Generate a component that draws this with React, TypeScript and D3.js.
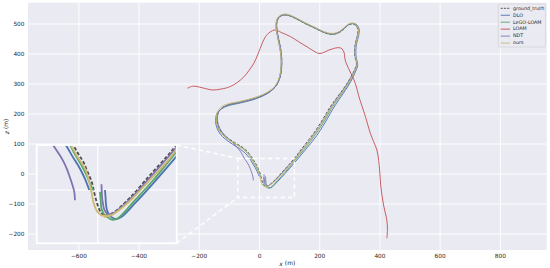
import React from 'react';
import * as d3 from 'd3';

type Pt = [number, number];

// ── axes / ticks ──────────────────────────────────────────────
const xTicks = [-600, -400, -200, 0, 200, 400, 600, 800];
const yTicks = [-200, -100, 0, 100, 200, 300, 400, 500];
const xDomain = [-769, 954];
const yDomain = [-253, 571];
// zoomed region shown in the inset
const insetXDomain = [-72, 116];
const insetYDomain = [-78, 52];
const insetXTicks = [10];
const insetYTicks = [-7.5];

const seriesNames = ['ground_truth', 'DLO', 'LeGO-LOAM', 'LOAM', 'NDT', 'ours'];
const seriesColors = ['#4d4d4d', '#4C72B0', '#55A868', '#C44E52', '#8172B2', '#CCB974'];

// ── trajectories (x, z in metres) ─────────────────────────────
const groundTruth: Pt[] = [
  [20, -41], [30, -38], [53, -18], [80, 12], [103, 37], [114, 50], [140, 84], [180, 136], [210, 182],
  [235, 224], [258, 256], [280, 286], [298, 314], [313, 342], [322, 366], [317, 392], [316, 414],
  [319, 438], [325, 460], [327, 480], [321, 494], [310, 500], [296, 497], [282, 485], [266, 472],
  [248, 466], [228, 467], [204, 476], [180, 488], [156, 499], [132, 512], [110, 523], [90, 530],
  [74, 528], [62, 518], [57, 500], [59, 474], [65, 444], [71, 412], [74, 380], [73, 350], [68, 322],
  [58, 298], [44, 282], [24, 268], [-4, 256], [-36, 246], [-70, 238], [-100, 232], [-122, 222],
  [-137, 205], [-141, 182], [-137, 160], [-126, 140], [-108, 122], [-84, 106], [-58, 90], [-40, 75],
  [-30, 62], [-23, 52], [-16, 40], [-9.5, 30], [-4, 17], [1.8, 3.4], [5, -10], [8.5, -23],
  [12, -33], [15, -38.4], [20, -41],
];

const dlo: Pt[] = [
  [19.7, -7.5], [20.5, -18], [21, -26], [23, -36], [28, -43], [35, -46], [42, -43], [60, -25],
  [85, 2], [114, 35], [150, 78], [190, 128], [218, 172], [242, 214], [264, 248], [285, 279],
  [303, 308], [317, 337], [326, 363], [321, 390], [320, 413], [323, 437], [329, 460], [331, 482],
  [324, 497], [311, 502], [296, 498], [282, 486], [266, 473], [248, 467], [228, 468], [204, 477],
  [180, 489], [156, 500], [132, 513], [110, 524], [90, 531], [73, 529], [61, 519], [55, 500],
  [57, 473], [63, 443], [69, 411], [72, 379], [71, 349], [66, 321], [56, 297], [42, 280], [22, 266],
  [-6, 253], [-38, 243], [-72, 235], [-103, 228], [-127, 217], [-142, 200], [-146, 178], [-142, 155],
  [-131, 134], [-113, 116], [-89, 99], [-64, 83], [-46, 68], [-33, 52], [-24, 37], [-14, 21],
  [-7, 7], [-1.4, -7.5],
];

const legoLoam: Pt[] = [
  [13, -10], [14, -22], [15, -32], [18, -39], [22, -43], [30, -47], [37, -45], [60, -21], [85, 6],
  [114, 41], [148, 82], [186, 132], [215, 176], [239, 218], [261, 251], [283, 282], [301, 310],
  [315, 339], [324, 364], [319, 390], [318, 413], [321, 437], [327, 460], [329, 481], [322, 495],
  [310, 501], [296, 498], [281, 486], [265, 473], [247, 467], [227, 468], [203, 477], [179, 489],
  [155, 500], [131, 513], [109, 524], [89, 531], [73, 529], [61, 519], [56, 500], [58, 474],
  [64, 444], [70, 412], [73, 380], [72, 350], [67, 322], [57, 298], [43, 282], [23, 268], [-5, 255],
  [-37, 245], [-71, 237], [-101, 231], [-124, 220], [-139, 203], [-143, 181], [-139, 158],
  [-128, 138], [-110, 120], [-86, 104], [-60, 88], [-42, 72], [-30, 57], [-22, 42], [-13, 27],
  [-5, 12], [0, 0], [4, -7.5],
];

const loam: Pt[] = [
  [-240, 286], [-220, 293], [-200, 290], [-180, 285], [-155, 280], [-130, 283], [-110, 287],
  [-96, 292], [-74, 305], [-52, 324], [-35, 345], [-19, 369], [-5, 400], [9, 436], [20, 458],
  [31, 470], [43, 478], [55, 480], [72, 472], [103, 458], [130, 441], [158, 424], [180, 410],
  [197, 402], [213, 405], [230, 413], [245, 418], [258, 421], [270, 420], [278, 412], [282, 400],
  [283, 388], [286, 375], [292, 360], [300, 343], [313, 316], [322, 290], [329, 262], [340, 228],
  [352, 191], [360, 163], [368, 136], [379, 108], [390, 80], [396, 45], [399, 13], [401, -15],
  [403, -42], [407, -72], [412, -103], [418, -130], [423, -153], [425, -187], [423, -214],
];

const ndt: Pt[] = [
  [15, 0], [15.5, -12], [16.5, -23], [19.5, -35], [25, -40], [33, -37], [53, -20], [80, 9],
  [114, 47], [150, 92], [185, 137], [213, 181], [237, 222], [259, 254], [281, 285], [299, 313],
  [314, 341], [323, 366], [318, 392], [317, 414], [320, 438], [326, 461], [329, 481], [323, 496],
  [312, 502], [297, 499], [282, 487], [266, 474], [248, 468], [228, 469], [204, 478], [180, 490],
  [156, 501], [132, 514], [110, 525], [90, 531], [74, 529], [62, 519], [57, 501], [59, 474],
  [65, 444], [71, 412], [74, 380], [73, 350], [68, 322], [58, 298], [44, 282], [24, 268], [-4, 256],
  [-36, 246], [-70, 238], [-100, 232], [-122, 222], [-136, 206], [-140, 184], [-136, 162],
  [-125, 141], [-108, 121], [-90, 106], [-72, 86], [-60, 70], [-50, 52], [-42, 40], [-36, 30],
  [-31, 19], [-27, 8], [-24, -1], [-21.5, -10], [-20.6, -21],
];

const ours: Pt[] = [
  [18, -43], [28, -41], [52, -23], [80, 6], [104, 31], [114, 44], [142, 80], [182, 132], [212, 178],
  [237, 220], [260, 252], [282, 283], [300, 311], [315, 340], [324, 365], [319, 391], [318, 413],
  [321, 437], [327, 460], [329, 481], [323, 496], [311, 503], [296, 500], [281, 488], [265, 475],
  [248, 469], [228, 470], [204, 479], [180, 491], [156, 502], [132, 515], [110, 526], [90, 533],
  [73, 531], [60, 521], [55, 501], [57, 474], [63, 444], [69, 412], [72, 380], [71, 350], [66, 323],
  [56, 300], [42, 284], [22, 271], [-5, 259], [-37, 249], [-71, 241], [-102, 235], [-125, 225],
  [-140, 207], [-144, 182], [-140, 159], [-129, 138], [-110, 120], [-86, 104], [-60, 88], [-41, 72],
  [-32, 60], [-26.4, 52], [-17, 36], [-7.2, 21], [-2, 5], [1.5, -10], [4, -23], [7, -32],
  [10.7, -37.5], [15, -41], [19.7, -41.5], [28.6, -40.6],
];

const seriesData: Pt[][] = [groundTruth, dlo, legoLoam, loam, ndt, ours];

const fmt = (v: number) => (v < 0 ? '\u2212' + Math.abs(v) : String(v));

export default function App() {
  const W = 550, H = 268;
  const plot = { left: 28, right: 546.7, top: 2.7, bottom: 250 };
  const ins = { left: 36.7, right: 176.7, top: 145, bottom: 243.3 };

  const x = d3.scaleLinear().domain(xDomain).range([plot.left, plot.right]);
  const y = d3.scaleLinear().domain(yDomain).range([plot.bottom, plot.top]);
  const xi = d3.scaleLinear().domain(insetXDomain).range([ins.left, ins.right]);
  const yi = d3.scaleLinear().domain(insetYDomain).range([ins.bottom, ins.top]);

  const mainLine = d3.line<Pt>().x(d => x(d[0])).y(d => y(d[1])).curve(d3.curveCatmullRom.alpha(0.5));
  const insetLine = d3.line<Pt>().x(d => xi(d[0])).y(d => yi(d[1])).curve(d3.curveCatmullRom.alpha(0.5));

  // zoom rectangle in main coords
  const rx0 = x(insetXDomain[0]), rx1 = x(insetXDomain[1]);
  const ry0 = y(insetYDomain[1]), ry1 = y(insetYDomain[0]);

  const font = '"DejaVu Sans", sans-serif';
  const txt = '#262626';

  return (
    <svg width={W} height={H} style={{ position: 'absolute', left: 0, top: 0, background: '#fff' }} fontFamily={font}>
      <defs>
        <clipPath id="mainClip">
          <rect x={plot.left} y={plot.top} width={plot.right - plot.left} height={plot.bottom - plot.top} />
        </clipPath>
        <clipPath id="insetClip">
          <rect x={ins.left} y={ins.top} width={ins.right - ins.left} height={ins.bottom - ins.top} />
        </clipPath>
      </defs>

      {/* main axes */}
      <rect x={plot.left} y={plot.top} width={plot.right - plot.left} height={plot.bottom - plot.top} fill="#EAEAF2" />
      {xTicks.map(t => (
        <line key={'gx' + t} x1={x(t)} x2={x(t)} y1={plot.top} y2={plot.bottom} stroke="#fff" strokeWidth={0.9} />
      ))}
      {yTicks.map(t => (
        <line key={'gy' + t} x1={plot.left} x2={plot.right} y1={y(t)} y2={y(t)} stroke="#fff" strokeWidth={0.9} />
      ))}

      <g clipPath="url(#mainClip)" fill="none">
        {seriesData.map((s, i) => (
          <path key={'m' + i} d={mainLine(s) || ''} stroke={seriesColors[i]} strokeWidth={i === 0 ? 0.9 : 0.9}
            strokeDasharray={i === 0 ? '3,1.5' : undefined} />
        ))}
      </g>

      {/* zoom marker */}
      <rect x={rx0} y={ry0} width={rx1 - rx0} height={ry1 - ry0} fill="none" stroke="#fff" strokeWidth={1.4} strokeDasharray="4.5,3" />
      <line x1={ins.right} y1={ins.top} x2={rx0} y2={ry0} stroke="#fff" strokeWidth={1.4} strokeDasharray="4.5,3" />
      <line x1={ins.right} y1={ins.bottom} x2={rx0} y2={ry1} stroke="#fff" strokeWidth={1.4} strokeDasharray="4.5,3" />

      {/* inset axes */}
      <rect x={ins.left} y={ins.top} width={ins.right - ins.left} height={ins.bottom - ins.top} fill="#EAEAF2" />
      {insetXTicks.map(t => (
        <line key={'ix' + t} x1={xi(t)} x2={xi(t)} y1={ins.top} y2={ins.bottom} stroke="#fff" strokeWidth={1.2} />
      ))}
      {insetYTicks.map(t => (
        <line key={'iy' + t} x1={ins.left} x2={ins.right} y1={yi(t)} y2={yi(t)} stroke="#fff" strokeWidth={1.2} />
      ))}
      <g clipPath="url(#insetClip)" fill="none">
        {seriesData.map((s, i) => (
          <path key={'i' + i} d={insetLine(s) || ''} stroke={seriesColors[i]} strokeWidth={1.8}
            strokeDasharray={i === 0 ? '3.5,2' : undefined} />
        ))}
      </g>
      <rect x={ins.left} y={ins.top} width={ins.right - ins.left} height={ins.bottom - ins.top} fill="none" stroke="#fff" strokeWidth={1.8} />

      {/* tick labels */}
      {xTicks.map(t => (
        <text key={'tx' + t} x={x(t)} y={256.5} fontSize={5.8} fill={txt} textAnchor="middle" dominantBaseline="middle">{fmt(t)}</text>
      ))}
      {yTicks.map(t => (
        <text key={'ty' + t} x={24.5} y={y(t)} fontSize={5.8} fill={txt} textAnchor="end" dominantBaseline="middle">{fmt(t)}</text>
      ))}
      <text x={(plot.left + plot.right) / 2} y={263.5} fontSize={6} fill={txt} textAnchor="middle" dominantBaseline="middle">
        <tspan fontStyle="italic">x</tspan> (m)
      </text>
      <text transform={`translate(6.5,${(plot.top + plot.bottom) / 2}) rotate(-90)`} fontSize={6} fill={txt} textAnchor="middle" dominantBaseline="middle">
        <tspan fontStyle="italic">z</tspan> (m)
      </text>

      {/* legend */}
      <rect x={498.3} y={4} width={47.2} height={43} rx={1.5} fill="#EAEAF2" fillOpacity={0.8} stroke="#cccccc" strokeWidth={0.6} />
      {seriesNames.map((n, i) => {
        const ly = 8.3 + i * 6.95;
        return (
          <g key={'lg' + n}>
            <line x1={500.7} x2={510} y1={ly} y2={ly} stroke={seriesColors[i]} strokeWidth={0.9}
              strokeDasharray={i === 0 ? '2.2,1' : undefined} />
            <text x={513} y={ly} fontSize={4.8} fill={txt} dominantBaseline="middle">{n}</text>
          </g>
        );
      })}
    </svg>
  );
}
